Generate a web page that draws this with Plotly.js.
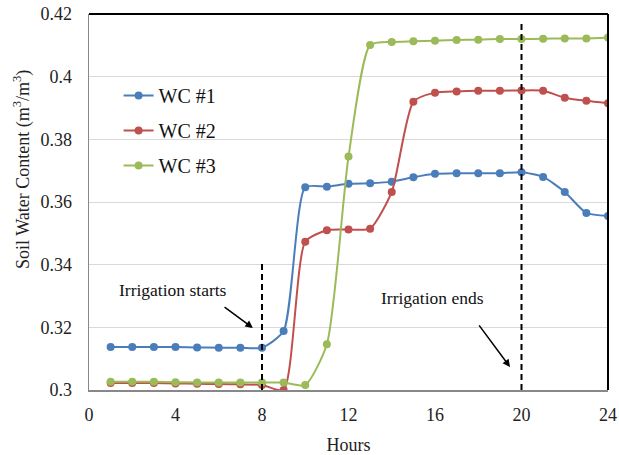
<!DOCTYPE html>
<html><head><meta charset="utf-8">
<script src="https://cdn.plot.ly/plotly-3.0.1.min.js"></script>
<style>html,body{margin:0;padding:0;background:#fff}#chart{width:619px;height:455px}</style>
</head><body><div id="chart"></div>
<script>
const hours = [1,2,3,4,5,6,7,8,9,10,11,12,13,14,15,16,17,18,19,20,21,22,23,24];
const wc1 = [0.3137,0.3137,0.3137,0.3137,0.3136,0.3135,0.3135,0.3135,0.3188,0.3647,0.3649,0.3658,0.3660,0.3665,0.3679,0.3690,0.3692,0.3692,0.3692,0.3695,0.3680,0.3632,0.3565,0.3555];
const wc2 = [0.3022,0.3022,0.3022,0.3021,0.3020,0.3019,0.3018,0.3016,0.3000,0.3473,0.3510,0.3512,0.3515,0.3632,0.3920,0.3949,0.3953,0.3955,0.3955,0.3956,0.3955,0.3933,0.3923,0.3915];
const wc3 = [0.3026,0.3026,0.3026,0.3025,0.3024,0.3024,0.3024,0.3024,0.3024,0.3016,0.3146,0.3745,0.4101,0.4111,0.4113,0.4115,0.4117,0.4118,0.4120,0.4120,0.4121,0.4122,0.4122,0.4125];
const names = ['WC #1','WC #2','WC #3'];
const colors = ['#4A7EBB','#C0504D','#9BBB59'];
const irrigationStart = 8, irrigationEnd = 20;
const startLineTop = 0.3415, endLineTop = 0.4175;

const series = [wc1, wc2, wc3];
const traces = series.map((s,i)=>({
  x: hours, y: s, name: names[i], type:'scatter', mode:'lines+markers',
  line:{color:colors[i], width:2, shape:'spline', smoothing:0.6},
  marker:{color:colors[i], size:8},
  legendgroup:'g'+i
}));

const serif = 'Liberation Serif';
const layout = {
  width:619, height:455,
  margin:{l:89, r:11, t:14, b:65},
  paper_bgcolor:'#fff', plot_bgcolor:'#fff',
  font:{family:serif, size:17, color:'#222'},
  showlegend:true,
  legend:{x:0.057, y:0.835, xanchor:'left', yanchor:'top', bgcolor:'rgba(0,0,0,0)', font:{family:serif, size:20, color:'#111'}, tracegroupgap:6, traceorder:'grouped'},
  xaxis:{range:[0,24], dtick:4, tick0:0, showgrid:false, zeroline:false, showline:true, linecolor:'#888', linewidth:1.5, ticks:'', ticklabelstandoff:8, tickfont:{size:18, family:serif, color:'#222'}, title:{text:'Hours', font:{size:18, family:serif, color:'#222'}, standoff:14}},
  yaxis:{range:[0.3,0.42], dtick:0.02, tick0:0.3, showgrid:true, gridcolor:'#d9d9d9', gridwidth:1, zeroline:false, showline:true, linecolor:'#888', linewidth:1.5, ticks:'', ticklabelstandoff:12, tickfont:{size:18, family:serif, color:'#222'}},
  shapes:[
    {type:'line', xref:'paper', yref:'paper', x0:0, x1:1, y0:1, y1:1, line:{color:'#000', width:2}},
    {type:'line', xref:'paper', yref:'paper', x0:1, x1:1, y0:0, y1:1, line:{color:'#000', width:2}},
    {type:'line', xref:'x', yref:'y', x0:irrigationStart, x1:irrigationStart, y0:0.3, y1:startLineTop, line:{color:'#000', width:2, dash:'6px,4px'}},
    {type:'line', xref:'x', yref:'y', x0:irrigationEnd, x1:irrigationEnd, y0:0.3, y1:endLineTop, line:{color:'#000', width:2, dash:'6px,4px'}}
  ],
  annotations:[
    {x:22, y:0.585, xref:'paper', yref:'paper', xanchor:'center', yanchor:'middle', text:'Soil Water Content (m<sup>3</sup>/m<sup>3</sup>)', textangle:-90, showarrow:false, font:{size:18, family:serif, color:'#222'}},
    {x:3.88, y:0.3319, xref:'x', yref:'y', text:'Irrigation starts', showarrow:false, font:{size:17.5, family:serif, color:'#111'}},
    {x:15.9, y:0.3294, xref:'x', yref:'y', text:'Irrigation ends', showarrow:false, font:{size:17.5, family:serif, color:'#111'}},
    {x:7.58, y:0.3198, ax:6.2, ay:0.3268, xref:'x', yref:'y', axref:'x', ayref:'y', text:'', showarrow:true, arrowhead:2, arrowsize:1, arrowwidth:1.5, arrowcolor:'#000'},
    {x:19.47, y:0.3073, ax:17.99, ay:0.3211, xref:'x', yref:'y', axref:'x', ayref:'y', text:'', showarrow:true, arrowhead:2, arrowsize:1, arrowwidth:1.5, arrowcolor:'#000'}
  ]
};
// y-title annotation x in paper units: pixel 22 from left edge
layout.annotations[0].x = (22 - layout.margin.l) / (layout.width - layout.margin.l - layout.margin.r);
Plotly.newPlot('chart', traces, layout, {displayModeBar:false, staticPlot:true});
</script></body></html>
